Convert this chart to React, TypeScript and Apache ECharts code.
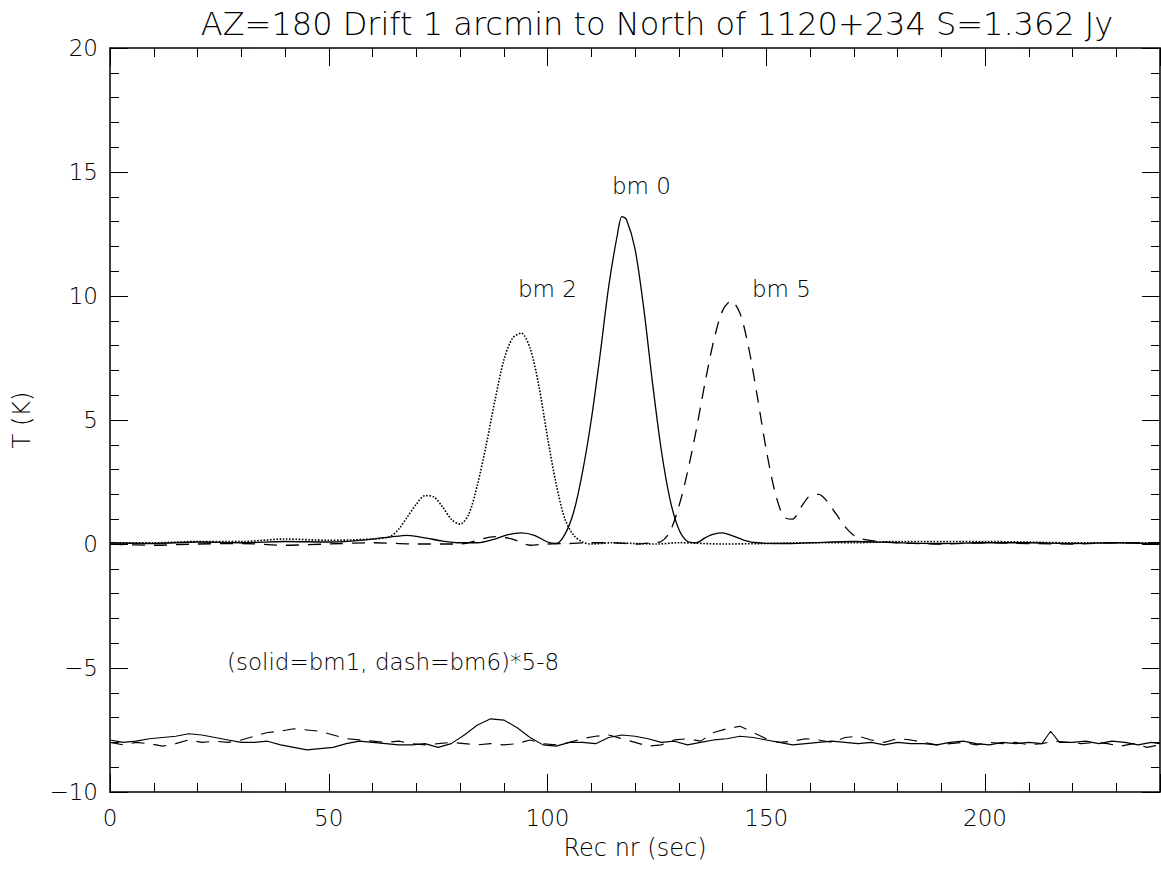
import React, { useEffect, useRef } from "react";
import * as echarts from "echarts";

const titleText = "AZ=180 Drift 1 arcmin to North of 1120+234 S=1.362 Jy";
const xName = "Rec nr (sec)";
const yName = "T (K)";

const bm0: [number, number][] = [
  [0,0.05],[10,0.02],[20,0.08],[30,0.05],[40,0.1],[50,0.08],[55,0.12],[60,0.2],[64,0.28],[68,0.35],[72,0.25],[76,0.12],[80,0.05],[84,0.05],[88,0.2],[91,0.38],[94,0.45],[97,0.35],[100,0.08],[102,0.02],
  [104,0.4],[106,1.3],[108,2.9],[110,5.0],[112,7.6],[114,10.4],[116,12.5],[117,13.2],[118,13.1],[120,11.9],[122,9.5],[124,6.5],[126,3.8],[128,1.8],[130,0.6],[132,0.1],[134,0.05],[136,0.25],[138,0.4],[140,0.45],[142,0.35],[145,0.15],[148,0.05],[155,0.02],[160,0.05],[170,0.1],[180,0.05],[190,0.02],[200,0.05],[210,0.05],[220,0.02],[230,0.05],[240,0.0],
];
const bm2: [number, number][] = [
  [0,0.05],[10,0.05],[20,0.1],[30,0.1],[40,0.2],[50,0.15],[60,0.2],[64,0.3],[66,0.6],[68,1.1],[70,1.6],[72,1.95],[74,1.9],[76,1.5],[78,1.0],[80,0.8],[82,1.2],[84,2.4],[86,4.0],[88,5.8],[90,7.4],[92,8.3],[94,8.5],[96,7.9],[98,6.4],[100,4.3],[102,2.4],[104,1.0],[106,0.35],[108,0.08],[110,0.0],[115,0.05],[120,0.02],[125,0.0],[130,0.05],[140,0.0],[150,0.02],[160,0.05],[170,0.05],[180,0.1],[200,0.1],[220,0.05],[240,0.05],
];
const bm5: [number, number][] = [
  [0,0.0],[10,-0.05],[20,0.0],[30,0.02],[40,-0.05],[50,0.0],[60,0.05],[70,0.0],[80,0.0],[88,0.3],[92,0.2],[96,-0.05],[100,0.0],[105,0.02],[110,0.05],[115,0.05],[120,0.0],[124,0.05],[126,0.1],[128,0.5],[130,1.5],[132,2.9],[134,4.6],[136,6.5],[138,8.2],[140,9.4],[142,9.8],[144,9.3],[146,7.9],[148,5.9],[150,3.8],[152,2.1],[154,1.1],[156,1.0],[158,1.5],[160,1.95],[162,2.0],[164,1.7],[166,1.2],[168,0.7],[170,0.35],[172,0.2],[176,0.1],[180,0.05],[190,0.0],[200,0.05],[210,0.02],[220,0.0],[230,0.05],[240,0.05],
];
const bm1x: [number, number][] = [
  [0,-7.9],[3,-8.0],[6,-7.95],[9,-7.85],[12,-7.8],[15,-7.75],[18,-7.65],[21,-7.7],[24,-7.8],[27,-7.9],[30,-8.0],[33,-8.0],[36,-7.95],[39,-8.1],[42,-8.2],[45,-8.3],[48,-8.25],[51,-8.2],[54,-8.05],[57,-7.95],[60,-8.0],[63,-8.05],[66,-8.1],[69,-8.1],[72,-8.05],[75,-8.2],[78,-8.05],[81,-7.7],[84,-7.3],[87,-7.05],[90,-7.1],[93,-7.4],[96,-7.8],[99,-8.1],[102,-8.15],[105,-8.0],[108,-8.0],[111,-8.05],[114,-7.8],[117,-7.7],[120,-7.75],[123,-7.85],[126,-8.0],[129,-7.95],[132,-8.1],[135,-8.0],[138,-7.9],[141,-7.85],[144,-7.75],[147,-7.8],[150,-7.9],[153,-8.0],[156,-8.1],[159,-8.05],[162,-8.0],[165,-7.95],[168,-8.0],[171,-8.05],[174,-8.0],[177,-8.1],[180,-8.0],[183,-8.05],[186,-8.05],[189,-8.1],[192,-8.0],[195,-7.95],[198,-8.05],[201,-8.1],[204,-8.0],[207,-8.05],[210,-8.0],[213,-8.05],[215,-7.55],[217,-8.0],[220,-8.0],[223,-7.95],[226,-8.05],[229,-7.95],[232,-8.0],[235,-8.1],[238,-8.0],[240,-8.05],
];
const bm6x: [number, number][] = [
  [0,-8.0],[3,-8.1],[6,-8.0],[9,-8.05],[12,-8.15],[15,-8.05],[18,-7.9],[21,-8.0],[24,-7.95],[27,-8.0],[30,-7.9],[33,-7.75],[36,-7.6],[39,-7.55],[42,-7.45],[45,-7.5],[48,-7.55],[51,-7.7],[54,-7.85],[57,-7.9],[60,-7.95],[63,-8.0],[66,-7.95],[69,-8.05],[72,-8.1],[75,-8.05],[78,-8.0],[81,-8.05],[84,-8.1],[87,-8.05],[90,-8.1],[93,-8.05],[96,-7.9],[99,-8.05],[102,-8.1],[105,-8.0],[108,-7.85],[111,-7.75],[114,-7.7],[117,-7.85],[120,-8.0],[123,-8.15],[126,-8.1],[129,-7.9],[132,-7.85],[135,-7.95],[138,-7.6],[141,-7.45],[144,-7.35],[147,-7.6],[150,-7.85],[153,-8.0],[156,-7.95],[159,-7.85],[162,-7.9],[165,-8.0],[168,-7.8],[171,-7.75],[174,-7.9],[177,-8.0],[180,-7.85],[183,-7.9],[186,-8.0],[189,-8.1],[192,-8.05],[195,-8.0],[198,-8.1],[201,-8.0],[204,-8.05],[207,-8.0],[210,-8.1],[213,-8.05],[216,-7.95],[219,-8.0],[222,-8.05],[225,-8.0],[228,-8.05],[231,-8.15],[234,-8.05],[237,-8.2],[240,-8.1],
];

const labels = [
  { text: "bm 0", x: 612, y: 174 },
  { text: "bm 2", x: 518, y: 277 },
  { text: "bm 5", x: 752, y: 277 },
  { text: "(solid=bm1, dash=bm6)*5-8", x: 227, y: 650 },
];

export default function App() {
  const ref = useRef<HTMLDivElement>(null);
  useEffect(() => {
    const chart = echarts.init(ref.current!, undefined, { renderer: "svg" });
    const font = "DejaVu Sans";
    const tickStyle = { color: "#000", width: 1 };
    const xBase = {
      type: "value" as const, min: 0, max: 240, interval: 50,
      axisLine: { show: true, onZero: false, lineStyle: { color: "#000", width: 1.5 } },
      axisTick: { show: true, inside: true, length: 18, lineStyle: tickStyle },
      minorTick: { show: true, splitNumber: 5, length: 9, lineStyle: tickStyle },
      splitLine: { show: false },
    };
    const yBase = {
      type: "value" as const, min: -10, max: 20, interval: 5,
      axisLine: { show: true, onZero: false, lineStyle: { color: "#000", width: 1.5 } },
      axisTick: { show: true, inside: true, length: 18, lineStyle: tickStyle },
      minorTick: { show: true, splitNumber: 5, length: 9, lineStyle: tickStyle },
      splitLine: { show: false },
    };
    const lineS = (data: [number, number][], type: any, width = 1.3, smooth: any = false) => ({
      type: "line", data, showSymbol: false, symbol: "none", smooth,
      lineStyle: { color: "#000", width, type }, xAxisIndex: 0, yAxisIndex: 0,
    });
    const txt = { fontFamily: font, fontWeight: 300 as any, color: "#000" };
    chart.setOption({
      animation: false,
      backgroundColor: "#fff",
      title: {
        text: titleText, left: 652, top: 3, textAlign: "center",
        textStyle: { ...txt, fontSize: 32 },
      },
      grid: { left: 110, right: 1, top: 48, bottom: 79 },
      xAxis: [
        { ...xBase, position: "bottom", name: xName, nameLocation: "middle", nameGap: 44,
          nameTextStyle: { ...txt, fontSize: 24 },
          axisLabel: { ...txt, fontSize: 23, margin: 14, showMaxLabel: false } },
        { ...xBase, position: "top", axisLabel: { show: false } },
      ],
      yAxis: [
        { ...yBase, position: "left", name: yName, nameLocation: "middle", nameGap: 76,
          nameTextStyle: { ...txt, fontSize: 24 },
          axisLabel: { ...txt, fontSize: 23, margin: 12,
            formatter: (v: number) => (v < 0 ? "\u2212" + Math.abs(v) : String(v)) } },
        { ...yBase, position: "right", axisLabel: { show: false } },
      ],
      series: [
        lineS(bm0, "solid", 1.3, 0.3),
        lineS(bm2, "dotted", 1.6, 0.3),
        lineS(bm5, [13, 9], 1.3, 0.3),
        lineS(bm1x, "solid", 1.1),
        lineS(bm6x, [13, 9], 1.1),
      ],
      graphic: labels.map((l) => ({
        type: "text", left: l.x, top: l.y,
        style: { text: l.text, font: `300 23px "${font}"`, fill: "#000" },
      })),
    });
    return () => chart.dispose();
  }, []);
  return <div ref={ref} style={{ position: "fixed", left: 0, top: 0, width: 1161, height: 871, background: "#fff" }} />;
}
